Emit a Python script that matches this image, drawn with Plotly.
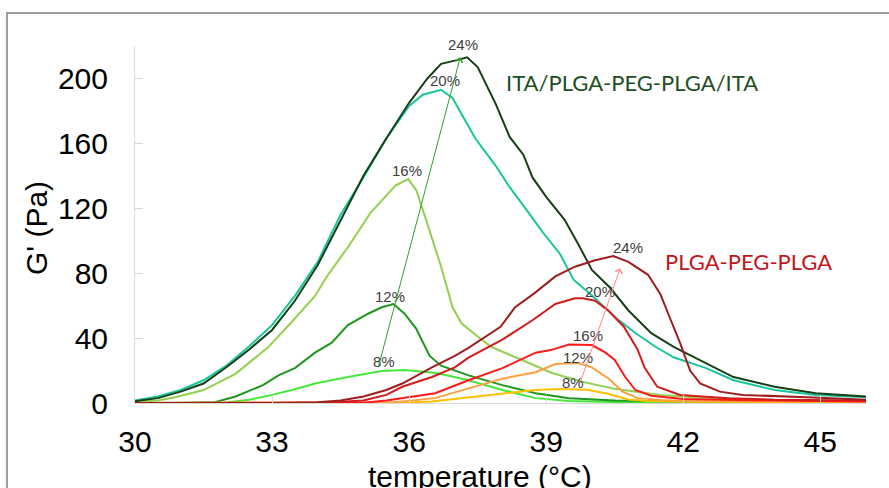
import plotly.graph_objects as go

# ---------------- data ----------------
# ITA/PLGA-PEG-PLGA/ITA series
ITA_24_T = [30, 30.5, 31, 31.5, 32, 32.5, 33, 33.5, 34, 34.5, 35, 35.5, 36, 36.4, 36.7, 37.0, 37.27, 37.5, 37.9, 38.2, 38.5, 38.7, 39.0, 39.4, 39.7, 40.0, 40.4, 40.8, 41.3, 41.8, 42.5, 43.1, 44.0, 44.9, 46.0]
ITA_24 = [1, 3, 7, 12, 22, 33, 45, 63, 85, 113, 140, 163, 185, 200, 209, 211, 213, 207, 184, 164, 153, 139, 127, 113, 98, 82, 71, 57, 43, 34.5, 24.6, 16, 10, 6, 4]

ITA_20_T = [30, 30.5, 31, 31.5, 32, 32.5, 33, 33.5, 34, 34.5, 35, 35.5, 36, 36.3, 36.7, 36.95, 37.15, 37.45, 37.9, 38.2, 38.57, 38.93, 39.3, 39.6, 40.05, 40.5, 40.96, 41.4, 41.8, 42.5, 43.1, 44.0, 44.9, 46.0]
ITA_20 = [1.5, 4, 8, 14, 23, 35, 48, 66, 87, 116, 139, 163, 183, 190, 193, 188, 178, 163, 146, 133, 119, 105, 92, 76, 65, 53, 43, 34.5, 28, 21.5, 14, 8, 5, 3.5]

ITA_16_T = [30, 30.5, 30.9, 31.5, 32.2, 32.9, 33.4, 33.94, 34.2, 34.66, 35.15, 35.4, 35.7, 35.98, 36.16, 36.37, 36.7, 36.95, 37.15, 37.5, 37.8, 38.47, 39.13, 39.8, 40.46, 40.97, 41.5, 42, 43, 44, 45, 46]
ITA_16 = [0.5, 1.5, 3.7, 8, 18, 34, 49, 66, 78, 96, 117, 125, 134, 138, 131, 113, 84, 59, 49, 41, 34.5, 26.5, 18.5, 13, 9, 7, 5, 4, 2.5, 1.8, 1.2, 1]

ITA_12_T = [30, 31, 31.75, 32.2, 32.8, 33.14, 33.5, 33.94, 34.3, 34.66, 35.1, 35.4, 35.66, 35.9, 36.15, 36.45, 36.7, 37.3, 38.04, 38.77, 39.5, 40.5, 42, 44, 46]
ITA_12 = [0, 0, 0.5, 4, 11, 17, 21.5, 31, 37, 48, 55, 59, 61, 55, 46, 29, 23, 17, 11, 6, 3, 1.5, 1, 0.6, 0.5]

ITA_8_T = [30, 31, 32, 32.5, 33, 33.5, 33.94, 34.66, 35.4, 35.9, 36.6, 37.3, 38.04, 38.77, 39.5, 40.5, 42, 44, 46]
ITA_8 = [0, 0, 0.3, 2, 5, 8.5, 12, 16, 19.7, 20.3, 18.5, 14, 8, 3, 1.2, 0.6, 0.4, 0.3, 0.3]

# PLGA-PEG-PLGA series
P24_T = [30, 33, 34, 34.5, 35, 35.5, 35.85, 36.5, 37, 37.3, 38, 38.32, 38.76, 39.2, 39.63, 40.07, 40.47, 40.8, 41.23, 41.5, 41.7, 41.93, 42.15, 42.37, 42.8, 43.3, 44.7, 46]
P24 = [0, 0, 0.5, 1.5, 4, 8, 12, 22, 29, 34, 47, 59, 68, 78, 84, 88, 90.5, 87, 79, 67, 53, 37, 20, 12, 7, 5, 3.5, 2]

P20_T = [30, 34, 35, 35.5, 35.85, 36.5, 37, 37.3, 38.04, 38.7, 39.2, 39.63, 39.8, 40.07, 40.36, 40.7, 41.0, 41.15, 41.43, 41.93, 43, 44, 46]
P20 = [0, 0, 1.5, 5, 10, 16, 22, 28, 39, 51, 61, 64.5, 64.5, 63, 57, 47, 33, 22, 10, 5, 3, 2, 1.5]

P16_T = [30, 35, 35.5, 35.85, 36.57, 37.3, 38.04, 38.77, 39.1, 39.5, 40.0, 40.3, 40.5, 40.73, 40.95, 41.3, 42, 44, 46]
P16 = [0, 0.2, 1.5, 3, 6, 14, 21.5, 31, 32.6, 36, 35.7, 31, 26.5, 16, 8, 4.5, 2.5, 1.5, 1]

P12_T = [30, 35.5, 35.85, 36.57, 37.3, 38.04, 38.77, 39.2, 39.7, 40.0, 40.37, 40.67, 41.0, 41.5, 42, 44, 46]
P12 = [0, 0.2, 1, 3, 9, 15, 19, 24, 24.6, 22, 15, 7, 3, 1.8, 1.3, 1, 0.8]

P8_T = [30, 35.5, 36, 36.5, 37.3, 38.04, 38.77, 39.3, 39.9, 40.37, 40.8, 41.2, 42, 44, 46]
P8 = [0, 0, 0.3, 1, 3.5, 5.5, 8, 8.6, 8.2, 5.5, 2.2, 1.2, 0.8, 0.6, 0.5]

X_TICKS = [30, 33, 36, 39, 42, 45]
Y_TICKS = [0, 40, 80, 120, 160, 200]

# percentage labels (temperature, G') and arrows (head/tail in data units)
ITA_LABELS = [("24%", 37.18, 221.2), ("20%", 36.79, 198.8), ("16%", 35.96, 143.4),
              ("12%", 35.58, 65.8), ("8%", 35.45, 25.8)]
PLGA_LABELS = [("24%", 40.80, 96.0), ("20%", 40.18, 68.9), ("16%", 39.92, 41.8),
               ("12%", 39.70, 28.3), ("8%", 39.59, 12.9)]
ITA_ARROW = (37.12, 213, 35.32, 21.5)
PLGA_ARROW = (40.62, 83, 39.74, 12.3)

Y_MAX = 220

# ---------------- figure ----------------
series = [
    (ITA_8_T, ITA_8, "#46E83A"),
    (ITA_12_T, ITA_12, "#1F961F"),
    (ITA_16_T, ITA_16, "#92D050"),
    (ITA_20_T, ITA_20, "#17C79A"),
    (ITA_24_T, ITA_24, "#173F17"),
    (P8_T, P8, "#FFC000"),
    (P12_T, P12, "#FFA040"),
    (P16_T, P16, "#FF1A1A"),
    (P20_T, P20, "#D21C1C"),
    (P24_T, P24, "#9E1E1E"),
]

fig = go.Figure()
for xs, ys, col in series:
    fig.add_trace(go.Scatter(x=xs, y=ys, mode="lines",
                             line=dict(color=col, width=2), showlegend=False,
                             hoverinfo="skip"))

W, H, L, R, T, B = 889, 488, 135, 23, 46, 85
pw, ph = W - L - R, H - T - B


def px(x):
    return (x - L) / pw


def py(y):
    return (H - B - y) / ph


ann = []
for txt, t, v in ITA_LABELS + PLGA_LABELS:
    ann.append(dict(x=t, y=v / Y_MAX, xref="x", yref="paper", text=txt, showarrow=False,
                    xanchor="center", yanchor="middle",
                    font=dict(family="Arial, Liberation Sans", size=15, color="#404040")))

for (hx, hy, tx, ty), col in [(ITA_ARROW, "#2E9E2E"), (PLGA_ARROW, "#FF8A8A")]:
    ann.append(dict(x=hx, y=hy, xref="x", yref="y", ax=tx, ay=ty, axref="x", ayref="y",
                    text="", showarrow=True, arrowhead=4, arrowsize=1.4, arrowwidth=1,
                    arrowcolor=col))

ann.append(dict(x=px(632), y=py(83), xref="paper", yref="paper",
                xanchor="center", yanchor="middle",
                text="ITA/PLGA-PEG-PLGA/ITA", showarrow=False,
                font=dict(family="Lato", size=22, color="#1E4E1E")))
ann.append(dict(x=px(748), y=py(261), xref="paper", yref="paper",
                xanchor="center", yanchor="middle",
                text="PLGA-PEG-PLGA", showarrow=False,
                font=dict(family="Lato", size=22, color="#C0161B")))
ann.append(dict(x=px(480), y=py(476), xref="paper", yref="paper",
                xanchor="center", yanchor="middle",
                text="temperature (°C)", showarrow=False,
                font=dict(family="Arial, Liberation Sans", size=30, color="#000000")))
ann.append(dict(x=px(36), y=py(228), xref="paper", yref="paper",
                xanchor="center", yanchor="middle",
                text="G' (Pa)", showarrow=False, textangle=-90,
                font=dict(family="Arial, Liberation Sans", size=30, color="#000000")))

fig.update_layout(
    width=W, height=H,
    margin=dict(l=L, r=R, t=T, b=B),
    paper_bgcolor="white", plot_bgcolor="white",
    annotations=ann,
    shapes=[dict(type="rect", xref="paper", yref="paper",
                 x0=px(7), x1=px(900), y0=py(500), y1=py(13),
                 line=dict(color="#7F7F7F", width=1.5), fillcolor="rgba(0,0,0,0)",
                 layer="below")],
    xaxis=dict(range=[30, 46], tickvals=X_TICKS, showgrid=False, zeroline=False,
               showline=True, linecolor="#D9D9D9", linewidth=1,
               ticks="inside", ticklen=8, tickcolor="#D9D9D9",
               ticklabelstandoff=12,
               tickfont=dict(family="Arial, Liberation Sans", size=30, color="#000000")),
    yaxis=dict(range=[0, Y_MAX], tickvals=Y_TICKS, showgrid=False, zeroline=False,
               showline=True, linecolor="#D9D9D9", linewidth=1,
               ticks="inside", ticklen=8, tickcolor="#D9D9D9",
               ticklabelstandoff=20,
               tickfont=dict(family="Arial, Liberation Sans", size=30, color="#000000")),
)

fig.write_html("out.html")
